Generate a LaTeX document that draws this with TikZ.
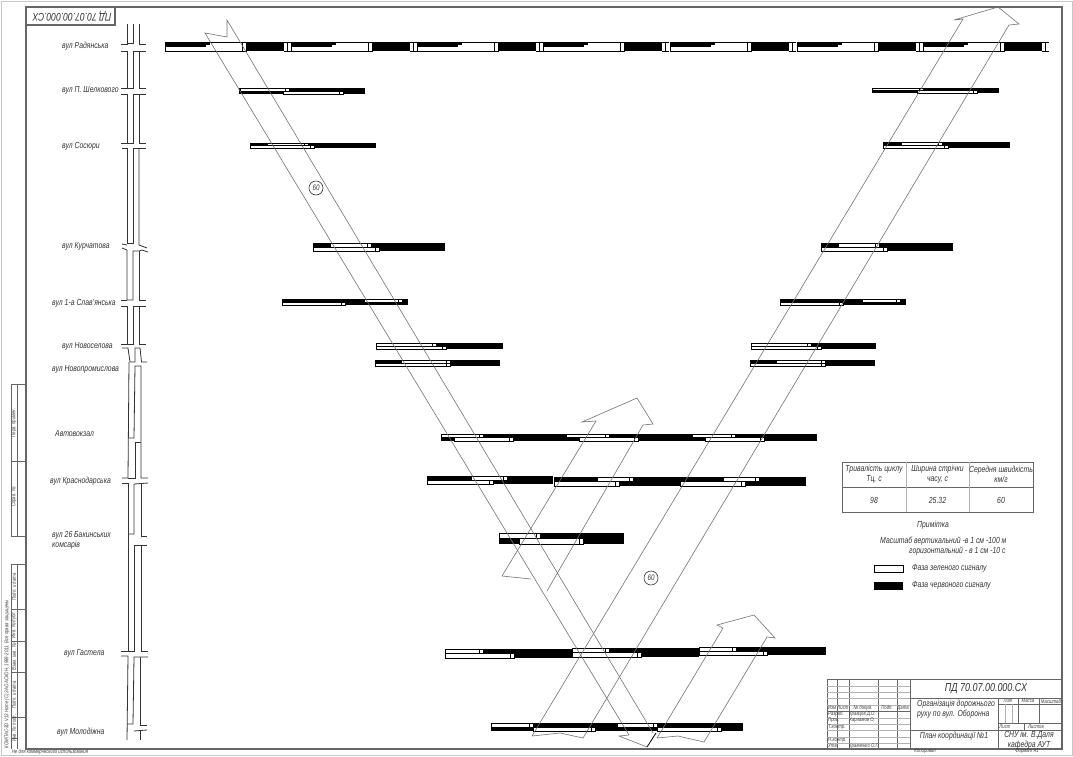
\documentclass[tikz,border=0pt]{standalone}
\usepackage{fontspec}
\setmainfont{Liberation Sans}[FakeStretch=0.78]
\usepackage{tikz}
\usetikzlibrary{calc}
\tikzstyle{redphase}=[fill=black]
\tikzstyle{greenphase}=[draw=black, line width=.5pt, fill=white]
\tikzstyle{wave}=[draw=black!55, line width=.6pt, line join=miter]
\tikzstyle{road}=[draw=black!80, line width=.8pt]
\tikzstyle{frameline}=[draw=black!60, line width=1.2pt]
\tikzstyle{gridline}=[draw=black!60, line width=.8pt]
\tikzstyle{thinline}=[draw=black!30, line width=.5pt]
\tikzstyle{street}=[anchor=west, inner sep=0pt, text=black!80, font=\fontsize{8.8}{10}\selectfont\itshape]
\tikzstyle{note}=[inner sep=0pt, text=black!80, align=center, font=\fontsize{8.8}{10}\selectfont\itshape]
\tikzstyle{tiny}=[inner sep=0pt, text=black!75, font=\fontsize{5.5}{6}\selectfont\itshape]
\newcommand{\phasebar}[6]{
	\fill[redphase] (#1,#3) rectangle (#2,#4);
	\foreach \a/\b in {#5} {
		\draw[greenphase] (\a,#3) rectangle (\b,{(#3+#4)/2});
		\draw[line width=.5pt] ({\b-4},#3) -- ({\b-4},{(#3+#4)/2});
	}
	\foreach \a/\b in {#6} {
		\draw[greenphase] (\a,{(#3+#4)/2}) rectangle (\b,#4);
		\draw[line width=.5pt] ({\b-4},{(#3+#4)/2}) -- ({\b-4},#4);
	}
}
\newcommand{\roadcell}[4]{
	\draw[road] (#1-6,#3) -- (#1,#3) -- (#1,#4) -- (#1+6,#4) -- (#1+6,#3) -- (#2+7,#3);
	\draw[road] (#2,#3) -- (#2,#4) -- (#2+7,#4);
	\draw[road] (#1-6,#4) -- (#1,#4);
}

\begin{document}
\begin{tikzpicture}[x=1pt,y=-1pt]
	\useasboundingbox (0,0) rectangle (1073,756);
	\fill[white] (0,0) rectangle (1073,756);
	\draw[black!22, line width=1pt] (1,1) rectangle (1072,755);

	% frame and stamps
	\draw[frameline] (26,7) rectangle (1062,749);
	\draw[frameline] (26,7) rectangle (115,25);
	\node[note, rotate=180, font=\fontsize{11}{12}\selectfont\itshape] (stampcode) at (72,16) {ПД 70.07.00.000.СХ};
	\draw[gridline] (26,384) -- (11,384) -- (11,536) -- (26,536);
	\draw[gridline] (26,461) -- (11,461);
	\draw[gridline] (17,384) -- (17,536);
	\draw[gridline] (26,564) -- (11,564) -- (11,749);
	\draw[gridline] (17,564) -- (17,749);
	\foreach \y in {609,641,672,717} {
		\draw[gridline] (26,\y) -- (11,\y);
	}
	\draw[gridline] (11,738) -- (17,738);
	\node[tiny, rotate=90] (stripa) at (14,423) {Перв. примен.};
	\node[tiny, rotate=90] (stripb) at (14,497) {Справ. №};
	\node[tiny, rotate=90] (stripc) at (14,587) {Подп. и дата};
	\node[tiny, rotate=90] (stripd) at (14,625) {Инв. № дубл.};
	\node[tiny, rotate=90] (stripe) at (14,657) {Взам. инв. №};
	\node[tiny, rotate=90] (stripf) at (14,695) {Подп. и дата};
	\node[tiny, rotate=90] (stripg) at (14,728) {Инв. № подл.};
	\node[tiny, rotate=90] (kompas) at (7,674) {КОМПАС-3D V13 Home (С) ЗАО АСКОН, 1989-2011. Все права защищены};
	\node[tiny] (noncomm) at (50,752) {Не для коммерческого использования};
	\node[tiny] (copyist) at (925,751.5) {Копировал};
	\node[tiny] (sheetfmt) at (1027,751.5) {Формат   А1};

	% road
	\draw[road] (121,44) -- (127,44) -- (127,24);
	\draw[road] (127,43) -- (133,43) -- (133,24);
	\draw[road] (146,44) -- (139,44) -- (139,24);
	\roadcell{127}{139}{51}{88}
	\roadcell{127}{139}{94}{143}
	\draw[road] (122,148) -- (127,148) -- (127,243) -- (133,243) -- (133,148) -- (146,148);
	\draw[road] (139,148) -- (139,245) -- (147,248);
	\draw[road] (122,244) -- (127,245);
	\draw[road] (122,248) -- (127,250) -- (127,300) -- (133,300) -- (133,251) -- (139,251) -- (142,250) -- (148,252);
	\draw[road] (139,251) -- (139,300) -- (146,300);
	\draw[road] (121,300) -- (127,300);
	\roadcell{127}{139}{306}{344}
	\draw[road] (122,348) -- (128,348) -- (130,362) -- (135,362) -- (135,348) -- (140,348) -- (141.5,362) -- (147,362);
	\draw[road] (129,362) -- (128,478) -- (122,478);
	\draw[road] (128,438) -- (134,438) -- (135,366) -- (141,366) -- (141,478) -- (148,478);
	\draw[road] (128,478) -- (135,478) -- (135,442) -- (141,442);
	\draw[road] (122,483) -- (128,483) -- (128,651) -- (121,651);
	\draw[road] (128,534) -- (134,534) -- (134,484) -- (148,483);
	\draw[road] (141,484) -- (141,536) -- (147,536);
	\draw[road] (128,651) -- (134,651) -- (134,545) -- (147,545);
	\draw[road] (141,545) -- (141,651) -- (148,651);
	\draw[road] (121,656) -- (128,656) -- (127,740);
	\draw[road] (127,724) -- (133,724) -- (134,657) -- (148,657);
	\draw[road] (140,657) -- (140,725) -- (147,725);
	\draw[road] (134,731) -- (147,730);
	\draw[road] (140,731) -- (140,740);

	% street names
	\node[street] (radianska) at (62,46) {вул  Радянська};
	\node[street] (shelkovy) at (62,90) {вул  П. Шелкового};
	\node[street] (sosiury) at (62,146) {вул  Сосюри};
	\node[street] (kurchatov) at (62,246) {вул  Курчатова};
	\node[street] (slavianska) at (52,303) {вул  1-а Слав'янська};
	\node[street] (novoselov) at (62,346) {вул  Новоселова};
	\node[street] (novoprom) at (52,369) {вул  Новопромислова};
	\node[street] (avtovokzal) at (55,434) {Автовокзал};
	\node[street] (krasnodar) at (50,481) {вул  Краснодарська};
	\node[street, align=left] (baku) at (52,540) {вул  26 Бакинських\\комсарів};
	\node[street] (gastello) at (64,653) {вул  Гастела};
	\node[street] (molodizhna) at (57,732) {вул  Молодіжна};

	% top street, one cycle after another
	\foreach \x in {165,291,417,543,670,797,923} {
		\draw[greenphase] (\x,42) rectangle ({\x+81},51);
		\fill[redphase] (\x,42) rectangle ({\x+45},47);
		\fill[white] ({\x+41},45) rectangle ({\x+45},47);
		\draw[line width=.5pt] ({\x+77},42) -- ({\x+77},51);
		\fill[redphase] ({\x+81},42) rectangle ({\x+119},51);
		\draw[line width=.5pt] ({\x+119},42) -- ({\x+126},42);
		\draw[line width=.5pt] ({\x+119},51) -- ({\x+126},51);
		\draw[line width=.5pt] ({\x+122},42) -- ({\x+122},51);
	}

	% left side bars
	\phasebar{239}{365}{88}{94}{240/289}{283/343}
	\phasebar{250}{376}{143}{148}{267/308}{250/314}
	\phasebar{313}{445}{243}{251}{330/371}{313/379}
	\phasebar{282}{408}{299}{305}{364/402}{282/345}
	\phasebar{376}{503}{343}{349}{376/436}{376/446}
	\phasebar{375}{500}{360}{366}{401/450}{375/450}
	% right side bars
	\phasebar{872}{999}{88}{93}{872/923}{917/977}
	\phasebar{883}{1010}{142}{148}{901/942}{883/948}
	\phasebar{821}{953}{243}{251}{838/879}{821/887}
	\phasebar{780}{906}{299}{305}{862/900}{780/843}
	\phasebar{751}{876}{343}{349}{751/811}{751/821}
	\phasebar{750}{875}{360}{366}{776/825}{750/825}
	% lower bars
	\phasebar{441}{817}{434}{441}{441/483,566/609,692/735}{454/513,579/638,705/764}
	\phasebar{427}{553}{476}{484}{471/507}{427/493}
	\phasebar{554}{806}{477}{486}{597/633,723/759}{554/619,680/745}
	\phasebar{499}{624}{533}{544}{499/540}{519/583}
	\phasebar{445}{572}{649}{658}{445/483}{445/514}
	\phasebar{572}{699}{648}{657}{572/609}{572/641}
	\phasebar{699}{826}{647}{655}{699/736}{699/767}
	\phasebar{491}{743}{723}{731}{491/533,617/657}{533/595,657/721}

	% time bands
	\draw[wave] (629,735) -- (205,33) -- (227,37) -- (227,20) -- (653,733);
	\draw[wave] (629,735) -- (619,736) -- (647,747);
	\draw[black, line width=.8pt] (647,747) -- (656,733);
	\draw[wave] (502,576) -- (596,421) -- (582,422) -- (637,398) -- (653,424) -- (643,425) -- (547,591);
	\draw[wave] (502,576) -- (531,579);
	\draw[wave] (532,736) -- (963,19) -- (954,20) -- (998,7) -- (1019,24) -- (1009,25) -- (583,738) -- (560,733) -- (532,736);
	\draw[wave] (657,738) -- (723,628) -- (717,625) -- (754,615) -- (775,638) -- (767,637) -- (704,742) -- (678,736) -- (657,738);
	\node[draw=black!80, circle, line width=.6pt, minimum size=14pt, inner sep=0pt, text=black!80, font=\fontsize{8}{8}\selectfont\itshape] (speeda) at (316,188) {60};
	\node[draw=black!80, circle, line width=.6pt, minimum size=14pt, inner sep=0pt, text=black!80, font=\fontsize{8}{8}\selectfont\itshape] (speedb) at (651,578) {60};

	% data table
	\draw[gridline] (842,462) rectangle (1033,512);
	\draw[gridline] (842,487) -- (1033,487);
	\draw[thinline] (906,462) -- (906,512);
	\draw[thinline] (969,462) -- (969,512);
	\node[note] (cyclehead) at (874,474.5) {Тривалість циклу\\Тц, с};
	\node[note] (bandhead) at (937.5,474.5) {Ширина стрічки\\часу, с};
	\node[note] (speedhead) at (1001,474.5) {Середня швидкість\\км/г};
	\node[note] (cycleval) at (874,500) {98};
	\node[note] (bandval) at (937.5,500) {25.32};
	\node[note] (speedval) at (1001,500) {60};
	\node[note] (remark) at (933,525) {Примітка};
	\node[street] (scalev) at (880,541.5) {Масштаб  вертикальний -в 1 см -100 м};
	\node[street] (scaleh) at (909,551) {горизонтальний - в 1 см -10 с};
	\draw[greenphase, line width=.8pt] (874,565) rectangle (903,572);
	\fill[redphase] (874,582) rectangle (903,590);
	\node[street] (greenkey) at (912,568) {Фаза зеленого сигналу};
	\node[street] (redkey) at (912,585) {Фаза червоного сигналу};

	% title block
	\draw[gridline] (827,749) -- (827,679) -- (1062,679);
	\foreach \x in {837,849,878,897,910} {
		\draw[gridline] (\x,679) -- (\x,749);
	}
	\foreach \y in {686,692,698,705,718,724,730,737,743} {
		\draw[thinline] (827,\y) -- (910,\y);
	}
	\draw[gridline] (827,711) -- (910,711);
	\draw[gridline] (910,698) -- (1062,698);
	\draw[gridline] (910,730) -- (1062,730);
	\draw[gridline] (998,698) -- (998,749);
	\draw[gridline] (998,704) -- (1062,704);
	\draw[gridline] (998,723) -- (1062,723);
	\draw[thinline] (1005,704) -- (1005,723);
	\draw[thinline] (1012,704) -- (1012,723);
	\draw[gridline] (1018,698) -- (1018,723);
	\draw[gridline] (1039,698) -- (1039,723);
	\draw[gridline] (1024,723) -- (1024,730);
	\node[note, font=\fontsize{11.5}{12}\selectfont\itshape] (sheetcode) at (986,689) {ПД 70.07.00.000.СХ};
	\node[street, align=left, font=\fontsize{8.8}{10.5}\selectfont\itshape] (sheettitle) at (917,709) {Організація дорожнього\\руху по вул. Оборонна};
	\node[note] (plantitle) at (954,736) {План координації №1};
	\node[note, font=\fontsize{8.8}{9.5}\selectfont\itshape] (unitext) at (1029,740) {СНУ ім. В.Даля\\кафедра АУТ};
	\node[tiny] (litcell) at (1008,701) {Лит};
	\node[tiny] (masscell) at (1028,701) {Масса};
	\node[tiny] (scalecell) at (1051,701) {Масштаб};
	\node[tiny] (listcell) at (1005,727) {Лист};
	\node[tiny] (listscell) at (1036,727) {Листов};
	\node[tiny] (izmcell) at (832,708) {Изм};
	\node[tiny] (lcell) at (843,708) {Лист};
	\node[tiny] (doccell) at (863,708) {№ докум.};
	\node[tiny] (signcell) at (887,708) {Подп.};
	\node[tiny] (datecell) at (903,708) {Дата};
	\node[tiny, anchor=west] (devcell) at (828,714) {Разраб.};
	\node[tiny, anchor=west] (devname) at (849,714) {Кравцов Д.О.};
	\node[tiny, anchor=west] (chkcell) at (828,720.5) {Пров.};
	\node[tiny, anchor=west] (chkname) at (849,720.5) {Харламов О.};
	\node[tiny, anchor=west] (tctlcell) at (828,727) {Т.контр.};
	\node[tiny, anchor=west] (nctlcell) at (828,740) {Н.контр.};
	\node[tiny, anchor=west] (apprcell) at (828,746) {Утв.};
	\node[tiny, anchor=west] (apprname) at (849,746) {Кравченко О.П.};
\end{tikzpicture}
\end{document}
